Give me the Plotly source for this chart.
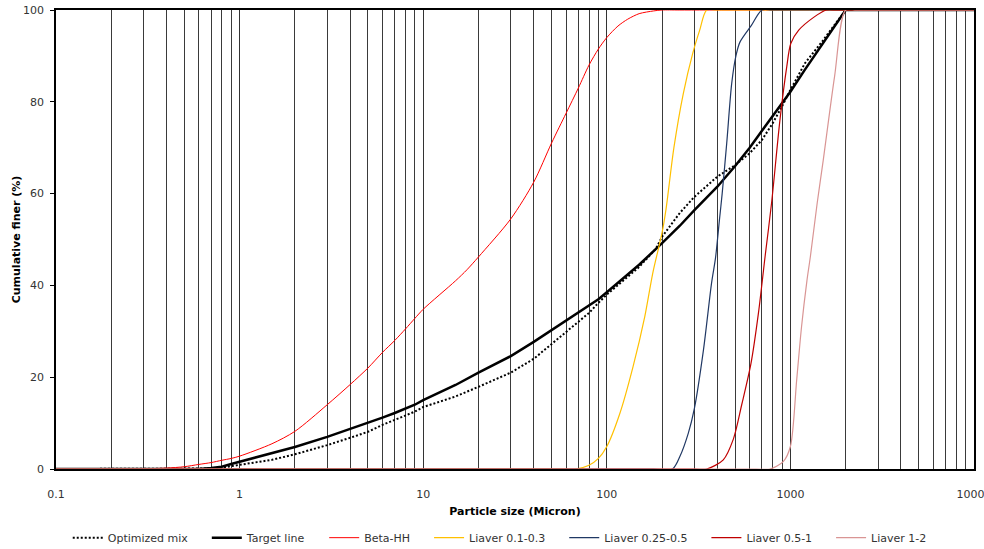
import plotly.graph_objects as go

# ---- data ----
opt_x = [0.1, 0.6, 0.7, 0.8, 0.9, 1, 1.5, 2, 3, 4, 5, 6, 7, 8, 9, 10, 15, 20, 30, 40, 50, 60, 70, 80, 90, 100,
         150, 185, 200, 250, 300, 400, 500, 600, 700, 800, 900, 1000, 1200, 1500, 2000, 10000]
opt_y = [0, 0, 0.1, 0.3, 0.6, 0.9, 2.0, 3.2, 5.2, 6.8, 8.1, 9.6, 10.7, 11.6, 12.5, 13.5, 15.8, 17.9, 21, 24, 27.2,
         29.8, 32, 34, 36.2, 38, 44, 48, 50.6, 55.8, 59.3, 63.7, 66.2, 68.8, 71.7, 75.3, 79, 82.6, 88.4, 93.3, 100, 100]

target_x = [0.1, 0.6, 0.7, 0.8, 0.9, 1, 1.5, 2, 3, 4, 5, 6, 7, 8, 9, 10, 15, 20, 30, 40, 50, 60, 70, 80, 90, 100,
            150, 200, 250, 300, 400, 500, 600, 700, 800, 900, 1000, 1200, 1500, 2000, 10000]
target_y = [0, 0, 0.2, 0.5, 1.1, 1.6, 3.4, 4.8, 7, 8.7, 10, 11.2, 12.2, 13.1, 14, 15, 18.3, 21, 24.6, 27.7, 30.3,
            32.3, 34.2, 35.8, 37, 38.5, 44.5, 49.2, 53, 56.4, 61.5, 66, 70, 73.7, 76.9, 79.5, 82.2, 87, 92.8, 100, 100]

beta_x = [0.1, 0.2, 0.3, 0.4, 0.5, 0.6, 0.7, 0.8, 0.9, 1, 1.5, 2, 3, 4, 5, 6, 7, 8, 9, 10, 15, 17.3, 20, 30, 40,
          50, 60, 70, 80, 90, 100, 115, 130, 150, 180, 200, 250, 10000]
beta_y = [0, 0, 0.05, 0.2, 0.5, 1.0, 1.4, 1.9, 2.3, 2.8, 5.5, 8.2, 14, 18.4, 22, 25.4, 28, 30.5, 32.8, 34.8, 41,
          43.4, 46.2, 54.5, 62.5, 71, 77.5, 83, 88, 91.5, 94, 96.5, 98, 99.2, 99.8, 100, 100, 100]

l013_x = [0.1, 50, 68, 80, 90, 100, 118, 139, 161, 178, 200, 210, 232, 261, 294, 320, 350, 400, 10000]
l013_y = [0, 0, 0, 0.8, 2.3, 4.9, 12.2, 22.3, 33.2, 42.7, 51.5, 56.5, 70, 81.8, 90.6, 95.5, 100, 100, 100]

l0205_x = [0.1, 180, 228, 250, 278, 300, 336, 372, 391, 410, 425, 450, 479, 505, 531, 612, 700, 800, 10000]
l0205_y = [0, 0, 0, 2.7, 7.8, 13.2, 25.9, 40.5, 46, 54, 60, 71, 84, 90, 93, 96.6, 100, 100, 100]

l051_x = [0.1, 300, 350, 431, 489, 543, 610, 670, 728, 790, 877, 955, 1005, 1110, 1350, 1570, 1800, 10000]
l051_y = [0, 0, 0, 2, 6.5, 14, 23, 34, 46.3, 58, 76, 87.6, 92.7, 95.6, 98.5, 100, 100, 100]

l12_x = [0.1, 650, 775, 914, 1000, 1082, 1150, 1230, 1285, 1400, 1510, 1740, 2000, 2300, 10000]
l12_y = [0, 0, 0, 1.6, 4.9, 19.4, 31, 41, 46.3, 58, 67.3, 85.5, 100, 100, 100]

x_tickvals = [0.1, 1, 10, 100, 1000, 10000]
x_ticktext = ["0.1", "1", "10", "100", "1000", "10000"]
y_tickvals = [0, 20, 40, 60, 80, 100]

FONT = "DejaVu Sans"
PAD = "\u00a0\u00a0\u00a0\u00a0"

fig = go.Figure()
series = [
    ("Optimized mix", opt_x, opt_y, dict(color="black", width=2, dash="2px,2px"), "linear"),
    ("Target line", target_x, target_y, dict(color="black", width=2.5), "linear"),
    ("Beta-HH", beta_x, beta_y, dict(color="#FF0000", width=1), "spline"),
    ("Liaver 0.1-0.3", l013_x, l013_y, dict(color="#FFC000", width=1.2), "spline"),
    ("Liaver 0.25-0.5", l0205_x, l0205_y, dict(color="#203864", width=1.2), "spline"),
    ("Liaver 0.5-1", l051_x, l051_y, dict(color="#C00000", width=1.2), "spline"),
    ("Liaver 1-2", l12_x, l12_y, dict(color="#D99594", width=1.2), "spline"),
]
for name, xs, ys, line, shape in series:
    line = dict(line, shape=shape)
    if shape == "spline":
        line["smoothing"] = 0.8
    fig.add_trace(go.Scatter(x=xs, y=ys, mode="lines", name=name + PAD, line=line))

fig.update_layout(
    template="none",
    width=984, height=549,
    margin=dict(l=56, r=10, t=10, b=80, autoexpand=False),
    paper_bgcolor="white", plot_bgcolor="white",
    font=dict(family=FONT, size=11, color="#333333"),
    showlegend=True,
    legend=dict(orientation="h", x=0.491, xanchor="center", y=-0.118, yanchor="top",
                font=dict(family=FONT, size=11, color="#333333"), itemwidth=30,
                tracegroupgap=0),
)
fig.update_xaxes(
    type="log", range=[-1, 4], automargin=False,
    tickvals=x_tickvals, ticktext=x_ticktext, ticks="", ticklabelstandoff=14,
    ticklabeloverflow="allow",
    showgrid=True, gridcolor="#333333", gridwidth=1,
    minor=dict(dtick="D1", showgrid=True, gridcolor="#3a3a3a", gridwidth=1, ticks=""),
    showline=True, linecolor="black", linewidth=1.5, mirror=True, zeroline=False,
    tickfont=dict(family=FONT, size=11, color="#333333"),
    title=dict(text="<b>Particle size (Micron)</b>", font=dict(family=FONT, size=11, color="black"), standoff=7),
)
fig.update_yaxes(
    range=[0, 100], automargin=False,
    tickvals=y_tickvals, ticks="outside", ticklen=4, tickcolor="black", ticklabelstandoff=4,
    ticklabeloverflow="allow",
    showgrid=False, zeroline=False,
    showline=True, linecolor="black", linewidth=1.5, mirror=True,
    tickfont=dict(family=FONT, size=11, color="#333333"),
    title=dict(text="<b>Cumulative finer (%)</b>", font=dict(family=FONT, size=11, color="black"), standoff=0),
)

fig.write_html("out.html", config={"displayModeBar": False},
               post_script="document.body.style.margin='0';document.body.style.overflow='hidden';")
